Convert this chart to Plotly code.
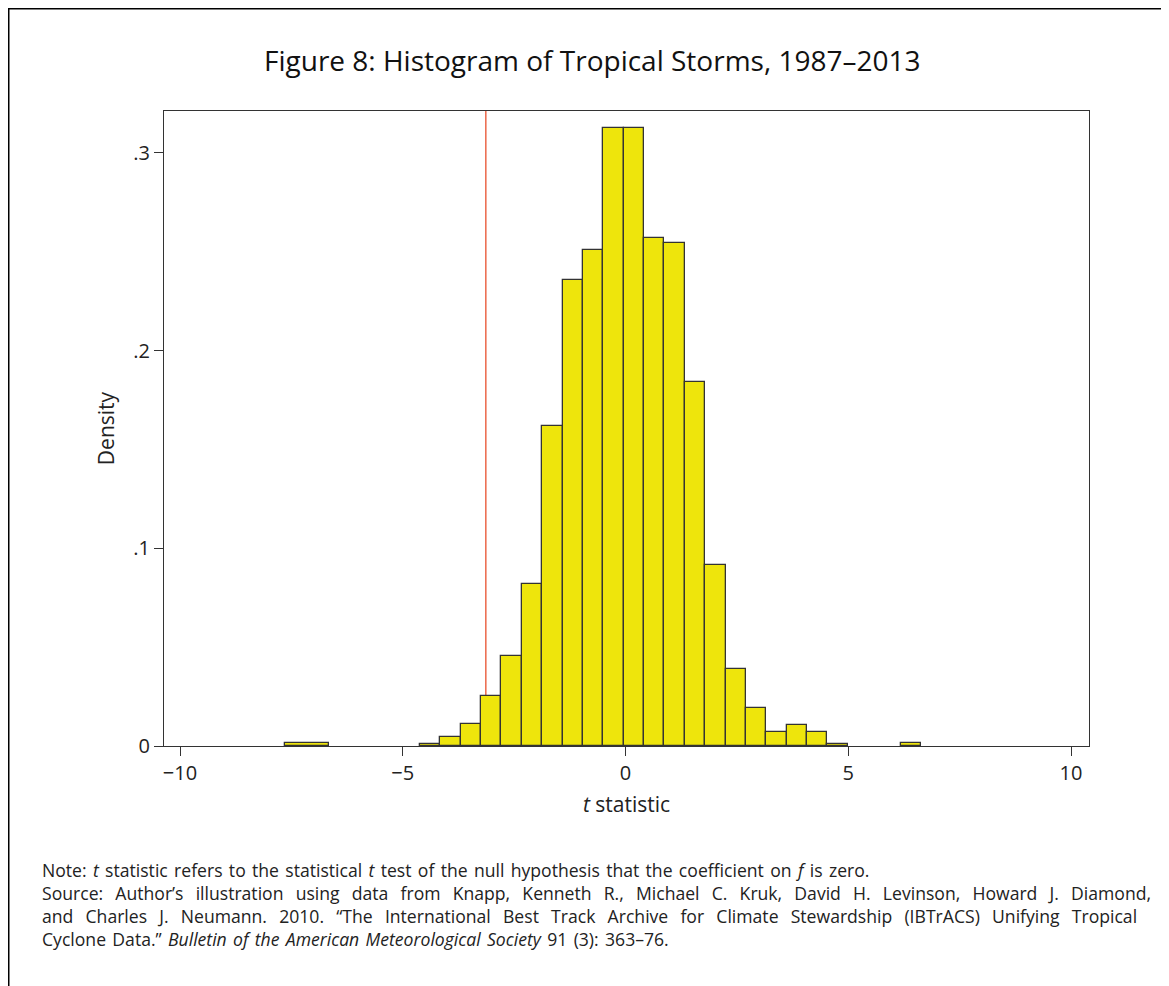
import plotly.graph_objects as go

# ---- data ----
bin_left = [-7.652, -4.616, -4.158, -3.701, -3.243, -2.786, -2.328, -1.871, -1.413,
            -0.956, -0.498, -0.041, 0.417, 0.874, 1.332, 1.789, 2.247, 2.704, 3.162,
            3.619, 4.077, 4.534, 6.178]
bin_right = [-6.647, -4.158, -3.701, -3.243, -2.786, -2.328, -1.871, -1.413, -0.956,
             -0.498, -0.041, 0.417, 0.874, 1.332, 1.789, 2.247, 2.704, 3.162, 3.619,
             4.077, 4.534, 4.992, 6.640]
density = [0.0013, 0.0012, 0.0047, 0.0110, 0.0254, 0.0457, 0.0821, 0.1620, 0.2359,
           0.2511, 0.3125, 0.3125, 0.2568, 0.2545, 0.1840, 0.0917, 0.0391, 0.0194,
           0.0069, 0.0108, 0.0069, 0.0012, 0.0013]
critical_t = -3.135
x_ticks = [-10, -5, 0, 5, 10]
y_ticks = [0, 0.1, 0.2, 0.3]
y_tick_labels = ["0", ".1", ".2", ".3"]

title_text = "Figure 8: Histogram of Tropical Storms, 1987\u20132013"
note_lines = [
    "Note: <i>t</i> statistic refers to the statistical <i>t</i> test of the null hypothesis that the coefficient on <i>f</i> is zero.",
    "Source: Author\u2019s illustration using data from Knapp, Kenneth R., Michael C. Kruk, David H. Levinson, Howard J. Diamond,",
    "and Charles J. Neumann. 2010. \u201cThe International Best Track Archive for Climate Stewardship (IBTrACS) Unifying Tropical",
    "Cyclone Data.\u201d <i>Bulletin of the American Meteorological Society</i> 91 (3): 363\u201376.",
]
# word-gap strings used to mimic the justified typesetting of the source lines
gap_strings = [" \u200a", " \u2004\u200a", " \u2004\u200a", " \u200a"]

FONT = "Open Sans"
OFF = 8  # page body margin offset
W, H = 1169 - OFF, 986 - OFF
L, R, T, B = 164 - OFF, 1089 - OFF, 111 - OFF, 746 - OFF  # plot area in figure pixels

def xp(px):
    return (px - OFF - L) / (R - L)

def yp(py):
    return (B - (py - OFF)) / (B - T)

centers = [(a + b) / 2 for a, b in zip(bin_left, bin_right)]
widths = [b - a for a, b in zip(bin_left, bin_right)]

fig = go.Figure()
fig.add_trace(go.Bar(
    x=centers, y=density, width=widths,
    marker=dict(color="#EEE50C", line=dict(color="#333333", width=1.3)),
    hoverinfo="x+y", showlegend=False,
))

# x scale: -10 at page px 180, 10 at page px 1071
sc = (1071 - 180) / 20.0
x_range = [-10 - (180 - 164) / sc, 10 + (1089 - 1071) / sc]
y_range = [0, (746 - 111) / 1976.7]

note_text = "<br>".join(l.replace(" ", g) for l, g in zip(note_lines, gap_strings))

annotations = [
    dict(text=title_text, xref="paper", yref="paper", x=xp(592), y=yp(60),
         xanchor="center", yanchor="middle", showarrow=False,
         font=dict(family=FONT, size=28, color="#111111")),
    dict(text=note_text, xref="paper", yref="paper", x=xp(40), y=yp(856),
         xanchor="left", yanchor="top", align="left", showarrow=False,
         font=dict(family=FONT, size=17.6, color="#222222")),
]

fig.update_layout(
    width=W, height=H,
    margin=dict(l=L, r=W - R, t=T, b=H - B),
    paper_bgcolor="white", plot_bgcolor="white",
    font=dict(family=FONT, color="#222222"),
    bargap=0,
    xaxis=dict(
        range=x_range, tickvals=x_ticks, ticks="outside", ticklen=9, tickwidth=1.2,
        tickcolor="#333333", showline=True, linecolor="#333333", linewidth=1.2,
        mirror=True, showgrid=False, zeroline=False,
        tickfont=dict(family=FONT, size=20, color="#222222"),
        title=dict(text="<i>t</i> statistic", font=dict(family=FONT, size=21, color="#222222"), standoff=12),
    ),
    yaxis=dict(
        range=y_range, tickvals=y_ticks, ticktext=y_tick_labels, ticks="outside",
        ticklen=9, tickwidth=1.2, tickcolor="#333333", showline=True,
        linecolor="#333333", linewidth=1.2, mirror=True, showgrid=False, zeroline=False,
        tickfont=dict(family=FONT, size=20, color="#222222"),
        title=dict(text="Density", font=dict(family=FONT, size=21, color="#222222"), standoff=12),
    ),
    shapes=[
        dict(type="line", xref="x", yref="paper", x0=critical_t, x1=critical_t, y0=0, y1=1,
             line=dict(color="#E8502E", width=1.3), layer="below"),
        # partial outer frame (left and top edges)
        dict(type="line", xref="paper", yref="paper", x0=xp(8.5), x1=xp(8.5), y0=yp(7.5), y1=yp(1000),
             line=dict(color="black", width=2)),
        dict(type="line", xref="paper", yref="paper", x0=xp(7.5), x1=xp(1200), y0=yp(8.5), y1=yp(8.5),
             line=dict(color="black", width=2)),
    ],
    annotations=annotations,
)

fig.write_html("out.html")
